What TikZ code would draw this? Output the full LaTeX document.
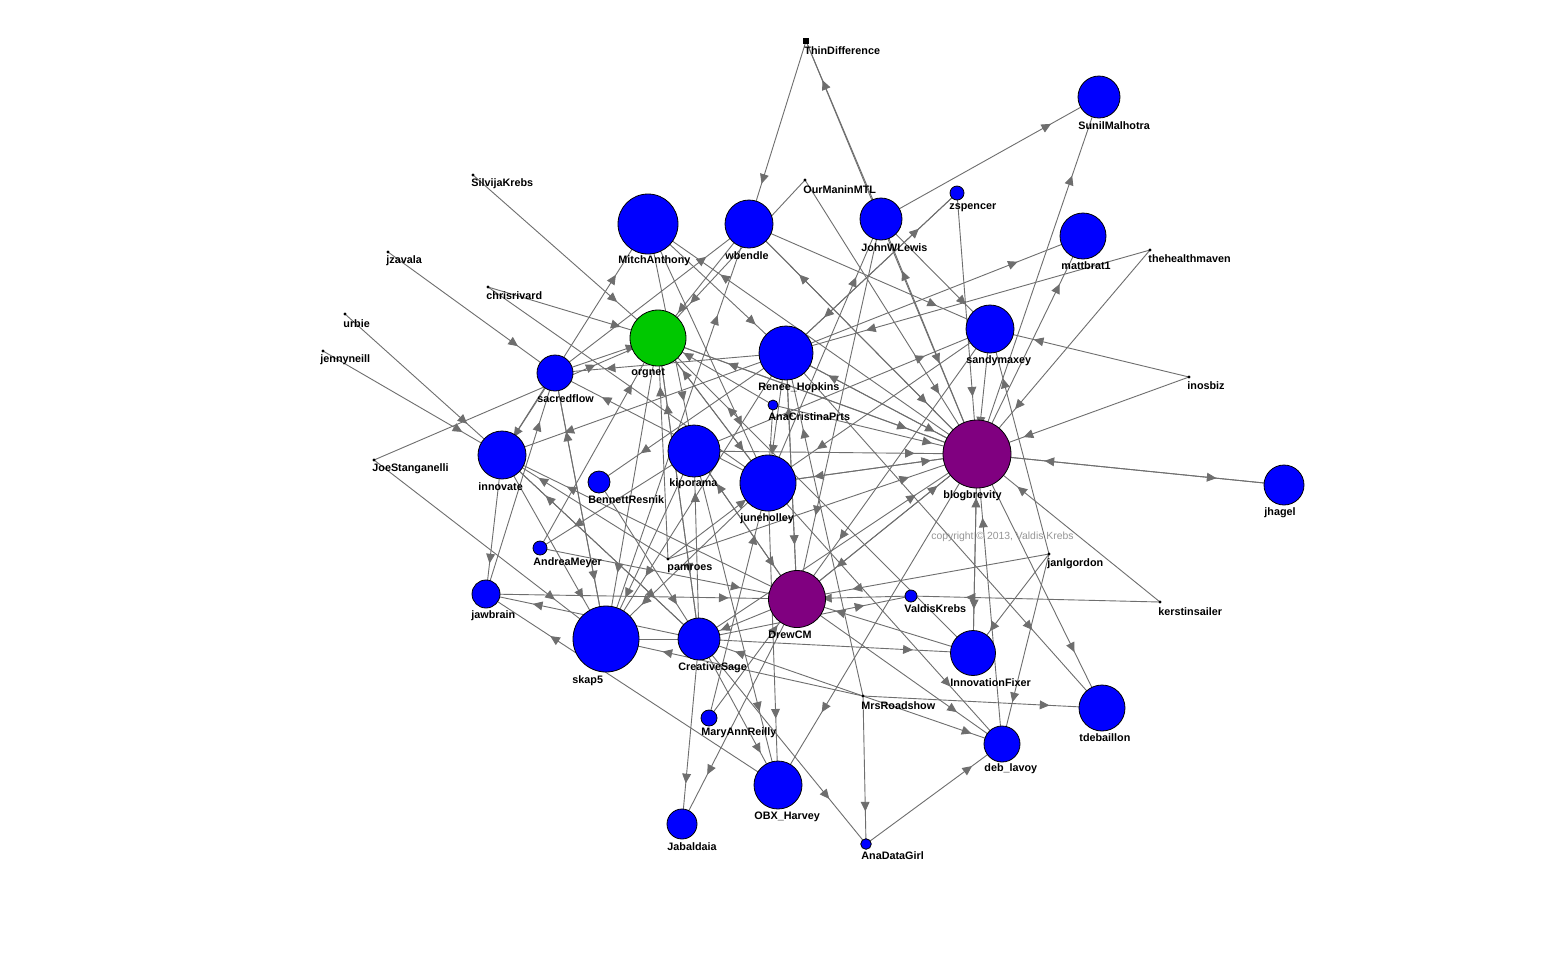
\documentclass[tikz,border=0pt]{standalone}
\usepackage{fontspec}
\setmainfont{Liberation Sans}
\usetikzlibrary{arrows.meta,decorations.markings,backgrounds}
\definecolor{vblue}{RGB}{0,0,255}
\definecolor{vgreen}{RGB}{0,200,0}
\definecolor{vpurple}{RGB}{128,0,128}
\definecolor{egrey}{RGB}{110,110,110}
\definecolor{cgrey}{RGB}{150,150,150}
\tikzset{
 vtx/.style={circle,draw=black,line width=0.4pt,inner sep=0pt,fill=vblue,minimum size=#1},
 hub/.style={vtx=#1,fill=vpurple},
 grn/.style={vtx=#1,fill=vgreen},
 dot/.style={circle,fill=black,inner sep=0pt,minimum size=1.7pt},
 sqdot/.style={rectangle,fill=black,inner sep=0pt,minimum size=2.6pt},
 lbl/.style={anchor=west,inner sep=0pt,font=\fontsize{5.4}{6}\selectfont\bfseries},
 link/.style={draw=egrey,line width=0.45pt,postaction={decorate},
   decoration={markings,mark=at position 0.78 with {\arrow{Triangle[length=4.8pt,width=4.4pt,color=egrey]}}}},
}
\begin{document}
\begin{tikzpicture}[x=0.5pt,y=-0.5pt]
\useasboundingbox (0,0) rectangle (1568,955);
% vertices
\node[sqdot] (TD) at (806,41) {};
\node[vtx=21pt] (Sunil) at (1099,97) {};
\node[dot] (Silvija) at (473,175) {};
\node[dot] (jzavala) at (388,252) {};
\node[dot] (chris) at (488,287) {};
\node[dot] (urbie) at (345,314) {};
\node[dot] (jenny) at (323,351) {};
\node[vtx=30pt] (Mitch) at (648,224) {};
\node[vtx=24pt] (wbendle) at (749,224) {};
\node[dot] (OMMTL) at (805,180) {};
\node[vtx=21pt] (JWL) at (881,219) {};
\node[vtx=7pt] (zspencer) at (957,193) {};
\node[vtx=23pt] (mattbrat) at (1083,236) {};
\node[dot] (thm) at (1150,250) {};
\node[grn=28pt] (orgnet) at (658,338) {};
\node[vtx=18pt] (sacred) at (555,373) {};
\node[vtx=27pt] (Renee) at (786,353) {};
\node[vtx=24pt] (sandy) at (990,329) {};
\node[dot] (inosbiz) at (1189,377) {};
\node[vtx=5pt] (ACP) at (773,405) {};
\node[vtx=24pt] (innovate) at (502,455) {};
\node[vtx=11pt] (B) at (599,482) {};
\node[vtx=26pt] (kip) at (694,451) {};
\node[vtx=28pt] (june) at (768,483) {};
\node[hub=34pt] (blog) at (977,454) {};
\node[vtx=20pt] (jhagel) at (1284,485) {};
\node[dot] (JoeS) at (374,460) {};
\node[vtx=7pt] (AM) at (540,548) {};
\node[dot] (pamroes) at (668,559) {};
\node[dot] (jan) at (1049,554) {};
\node[dot] (kerstin) at (1160,602) {};
\node[vtx=6pt] (VK) at (911,596) {};
\node[hub=28.5pt] (DrewCM) at (797,599) {};
\node[vtx=14pt] (jawbrain) at (486,594) {};
\node[vtx=33pt] (skap) at (606,639) {};
\node[vtx=21pt] (CS) at (699,639) {};
\node[vtx=22.5pt] (IF) at (973,653) {};
\node[dot] (MrsR) at (863,696) {};
\node[vtx=23pt] (tdeb) at (1102,708) {};
\node[vtx=8pt] (MAR) at (709,718) {};
\node[vtx=18pt] (deb) at (1002,744) {};
\node[vtx=24pt] (OBX) at (778,785) {};
\node[vtx=15pt] (Jab) at (682,824) {};
\node[vtx=5.3pt] (ADG) at (866,844) {};
% labels
\node[lbl] (lTD) at (804,51) {ThinDifference};
\node[lbl] (lSunil) at (1078,126) {SunilMalhotra};
\node[lbl] (lSilvija) at (471,184) {SilvijaKrebs};
\node[lbl] (ljzavala) at (386,261) {jzavala};
\node[lbl] (lchris) at (486,296) {chrisrivard};
\node[lbl] (lurbie) at (343,324) {urbie};
\node[lbl] (ljenny) at (320,360) {jennyneill};
\node[lbl] (lMitch) at (618,261) {MitchAnthony};
\node[lbl] (lwbendle) at (725,256) {wbendle};
\node[lbl] (lOMMTL) at (803,190) {OurManinMTL};
\node[lbl] (lJWL) at (861,248) {JohnWLewis};
\node[lbl] (lzspencer) at (949,208) {zspencer};
\node[lbl] (lmattbrat) at (1061,266) {mattbrat1};
\node[lbl] (lthm) at (1148,259) {thehealthmaven};
\node[lbl] (lorgnet) at (631,373) {orgnet};
\node[lbl] (lsacred) at (537,399) {sacredflow};
\node[lbl] (lRenee) at (758,388) {Renee\_Hopkins};
\node[lbl] (lsandy) at (966,361) {sandymaxey};
\node[lbl] (linosbiz) at (1187,386) {inosbiz};
\node[lbl] (lACP) at (768,417) {AnaCristinaPrts};
\node[lbl] (linnovate) at (478,487) {innovate};
\node[lbl] (lB) at (588,500) {BennettResnik};
\node[lbl] (lkip) at (669,484) {kiporama};
\node[lbl] (ljune) at (740,519) {juneholley};
\node[lbl] (lblog) at (943,496) {blogbrevity};
\node[lbl] (ljhagel) at (1264,513) {jhagel};
\node[lbl] (lJoeS) at (372,469) {JoeStanganelli};
\node[lbl] (lAM) at (533,563) {AndreaMeyer};
\node[lbl] (lpamroes) at (667,569) {pamroes};
\node[lbl] (ljan) at (1047,564) {janlgordon};
\node[lbl] (lkerstin) at (1158,612) {kerstinsailer};
\node[lbl] (lVK) at (904,609) {ValdisKrebs};
\node[lbl] (lDrewCM) at (768,635) {DrewCM};
\node[lbl] (ljawbrain) at (471,616) {jawbrain};
\node[lbl] (lskap) at (572,681) {skap5};
\node[lbl] (lCS) at (678,668) {CreativeSage};
\node[lbl] (lIF) at (950,683) {InnovationFixer};
\node[lbl] (lMrsR) at (861,706) {MrsRoadshow};
\node[lbl] (ltdeb) at (1079,738) {tdebaillon};
\node[lbl] (lMAR) at (701,733) {MaryAnnReilly};
\node[lbl] (ldeb) at (984,769) {deb\_lavoy};
\node[lbl] (lOBX) at (754,817) {OBX\_Harvey};
\node[lbl] (lJab) at (667,847) {Jabaldaia};
\node[lbl] (lADG) at (861,856) {AnaDataGirl};
\node[anchor=west,inner sep=0pt,font=\fontsize{5.2}{6}\selectfont,text=cgrey] (copy) at (931,537) {copyright \textcopyright{} 2013, Valdis Krebs};
% connectors
\begin{scope}[on background layer]
\fill[white] (0,0) rectangle (1568,955);
\foreach \s/\t in {TD/wbendle,JWL/TD,TD/blog,OMMTL/orgnet,OMMTL/blog,JWL/Sunil,blog/Sunil,
 Renee/zspencer,zspencer/Renee,zspencer/blog,JWL/sandy,Renee/mattbrat,blog/mattbrat,thm/Renee,thm/blog,
 inosbiz/sandy,inosbiz/blog,blog/jhagel,jhagel/blog,jan/DrewCM,jan/IF,jan/deb,jan/sandy,Renee/tdeb,blog/tdeb,
 kerstin/VK,kerstin/blog,deb/blog,blog/IF,IF/blog,CS/IF,IF/DrewCM,ADG/deb,MrsR/deb,DrewCM/deb,MrsR/tdeb,
 MrsR/skap,MrsR/CS,MrsR/ADG,MrsR/Renee,CS/ADG,june/OBX,blog/OBX,OBX/jawbrain,CS/OBX,kip/OBX,CS/Jab,
 DrewCM/Jab,MAR/DrewCM,MAR/june,Silvija/orgnet,jzavala/sacred,chris/orgnet,chris/june,urbie/innovate,
 jenny/innovate,JoeS/orgnet,JoeS/skap,innovate/Mitch,sacred/wbendle,sacred/innovate,jawbrain/sacred,
 skap/sacred,innovate/jawbrain,Renee/innovate,pamroes/innovate,innovate/CS,wbendle/orgnet,Mitch/Renee,
 Renee/sacred,june/sacred,june/orgnet,blog/orgnet,AM/orgnet,pamroes/orgnet,CS/orgnet,IF/orgnet,
 DrewCM/Renee,blog/Renee,kip/sandy,orgnet/blog,Renee/blog,ACP/blog,kip/blog,june/blog,pamroes/blog,
 DrewCM/blog,CS/blog,blog/june,sandy/june,Renee/june,orgnet/june,pamroes/june,DrewCM/kip,CS/kip,
 sandy/DrewCM,JWL/DrewCM,Renee/DrewCM,blog/DrewCM,wbendle/blog,CS/VK,kip/AM,orgnet/skap,sacred/skap,
 innovate/skap,kip/skap,june/skap,Renee/skap,B/CS,jawbrain/DrewCM,AM/DrewCM,kip/DrewCM,DrewCM/CS,
 CS/jawbrain,DrewCM/innovate,CS/innovate,blog/wbendle,june/JWL,blog/JWL,wbendle/sandy,Renee/B,CS/skap,
 sandy/blog,ACP/june,VK/DrewCM,june/deb,Mitch/kip,Mitch/june,sacred/orgnet,orgnet/CS,
 blog/Mitch,skap/wbendle,ACP/orgnet}
 {\draw[link] (\s.center) -- (\t.center);}
\end{scope}
\end{tikzpicture}
\end{document}
